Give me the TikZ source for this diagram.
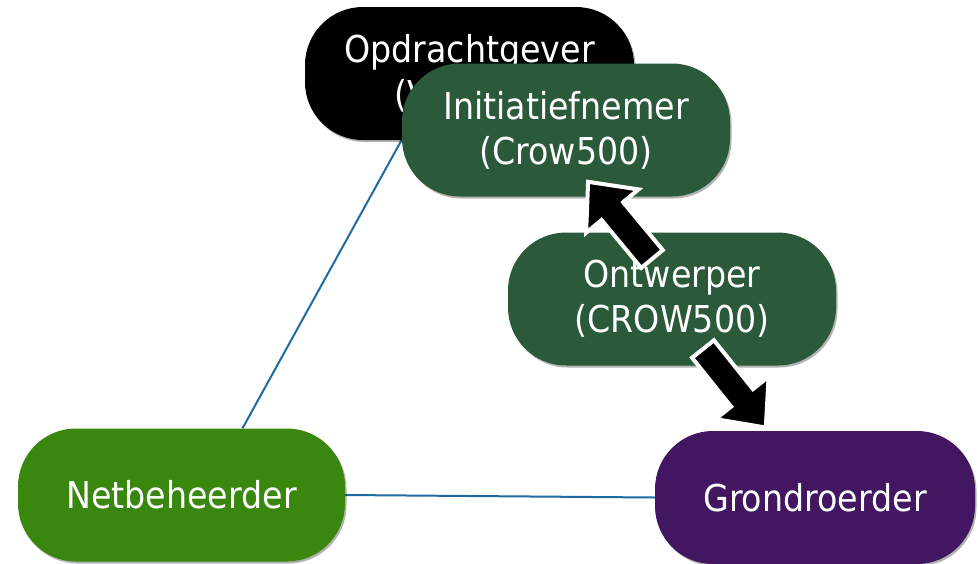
\documentclass[tikz,border=0pt]{standalone}
\usepackage{fontspec}
\setmainfont{DejaVu Sans}[FakeStretch=0.9]
\usetikzlibrary{calc,backgrounds,shadows}
\definecolor{dkgreen}{RGB}{43,90,58}
\definecolor{netgreen}{RGB}{58,135,16}
\definecolor{grpurple}{RGB}{66,22,96}
\definecolor{linkblue}{RGB}{31,106,160}
\newcommand\blockarrow[2]{%
  \path let \p1=($(#2)-(#1)$) in \pgfextra{%
    \pgfmathparse{atan2(\y1,\x1)}\xdef\baAng{\pgfmathresult}%
    \pgfmathparse{veclen(\x1,\y1)}\xdef\baLen{\pgfmathresult}%
    \pgfmathparse{veclen(\x1,\y1)-38}\xdef\baNeck{\pgfmathresult}};
  \begin{scope}[shift={(#1)}, rotate=\baAng]
    \draw[blockarr] (0pt,-14pt) -- (\baNeck pt,-14pt) -- (\baNeck pt,-34pt)
      -- (\baLen pt,0pt) -- (\baNeck pt,34pt) -- (\baNeck pt,14pt) -- (0pt,14pt) -- cycle;
  \end{scope}}
\begin{document}
\begin{tikzpicture}[x=1pt,y=-1pt,
  box/.style={rectangle, rounded corners=58pt, minimum height=133pt,
    text=white, align=center, inner sep=0pt,
    font=\fontsize{37}{45}\selectfont,
    drop shadow={shadow xshift=1.5pt,shadow yshift=-2pt,opacity=0.3,fill=black}},
  conn/.style={draw=linkblue, line width=2pt},
  blockarr/.style={draw=white, line width=4pt, fill=black, line join=miter,
    drop shadow={shadow xshift=1pt,shadow yshift=-1.5pt,opacity=0.3,fill=black}}]
\useasboundingbox (0,0) rectangle (978,563);
\node[box, fill=black, minimum width=329pt, align=left] (opdr) at (469.5,73.5)
  {Opdrachtgever\\\hspace*{50pt}(V};
\node[box, fill=netgreen, minimum width=327pt] (net) at (181.5,495) {Netbeheerder};
\node[box, fill=grpurple, minimum width=320pt] (grond) at (815,497.5) {Grondroerder};
\node[box, fill=dkgreen, minimum width=328pt] (init) at (566,130) {Initiatiefnemer\\(Crow500)};
\node[box, fill=dkgreen, minimum width=328pt] (ont) at (672,299) {Ontwerper\\(CROW500)};
\begin{scope}[on background layer]
  \draw[conn] ([shift={(61,0)}]net.north) -- ([shift={(-68,0)}]opdr.south);
  \draw[conn] (net.east) -- (grond.west);
\end{scope}
\coordinate (a1s) at ($(ont.center)+(-20,-40)$);
\coordinate (a1e) at ($(init.south)+(22,-15)$);
\coordinate (a2s) at ($(ont.center)+(31,50)$);
\coordinate (a2e) at ($(grond.north)+(-49,-3)$);
\blockarrow{a1s}{a1e}
\blockarrow{a2s}{a2e}
\end{tikzpicture}
\end{document}
